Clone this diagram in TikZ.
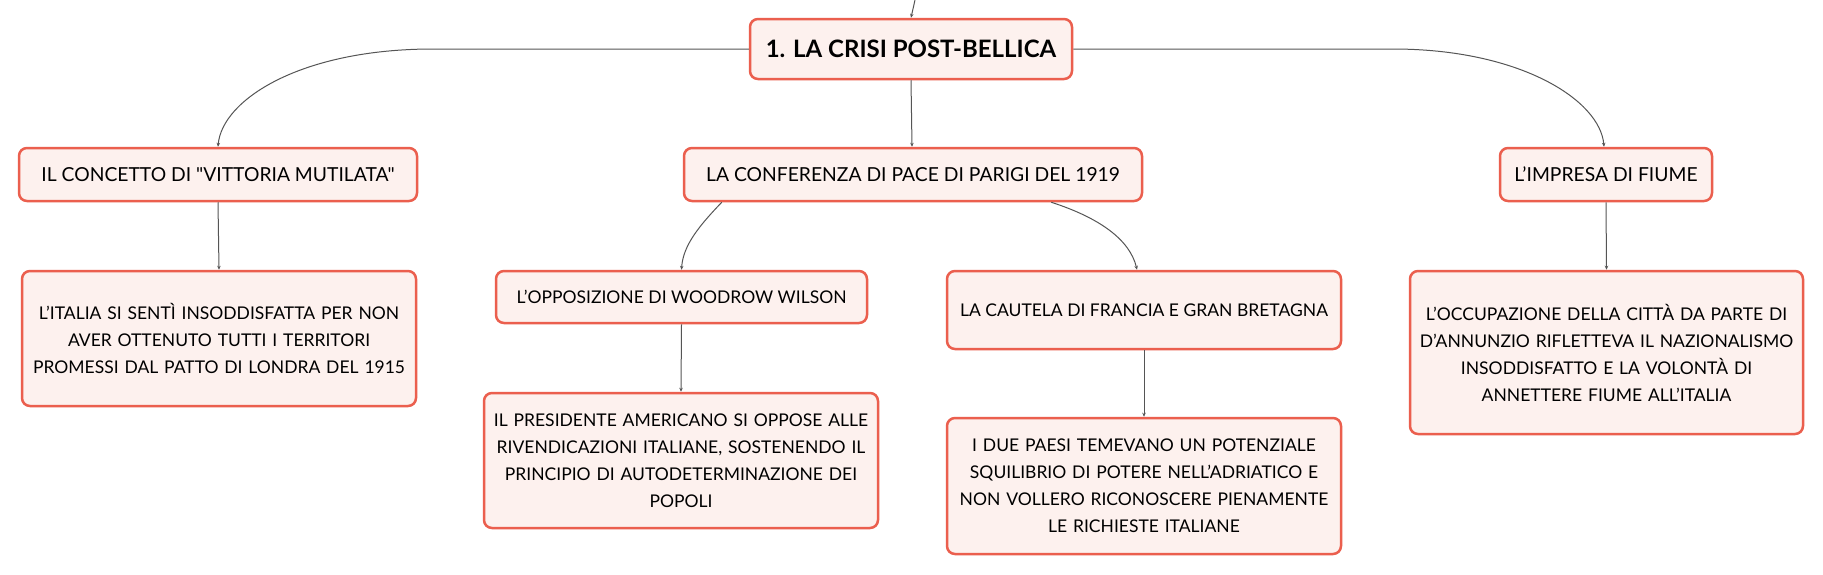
\documentclass[tikz,border=0pt]{standalone}
\usepackage{fontspec}
\setmainfont{Lato}[Ligatures=TeXOff]
\usetikzlibrary{arrows.meta}
\definecolor{bordc}{HTML}{EB5F4E}
\definecolor{fillc}{HTML}{FDF1EE}
\definecolor{linec}{HTML}{555555}
\tikzset{
  box/.style={draw=bordc, fill=fillc, line width=2.5pt, rounded corners=8pt,
    inner sep=0pt, align=center, font=\fontsize{17.5}{27}\selectfont, text=black},
  labbox/.style={box, font=\fontsize{19.3}{27}\selectfont},
  mainbox/.style={box, font=\fontsize{24}{27}\selectfont\bfseries},
  conn/.style={draw=linec, line width=1pt, -{Stealth[length=4pt,width=3.5pt]}}
}
\begin{document}
\begin{tikzpicture}[x=1pt,y=-1pt]
\useasboundingbox (0,0) rectangle (1823,574);
\fill[white] (0,0) rectangle (1823,574);

\node[mainbox, minimum width=322, minimum height=60] (main) at (911,49) {1. LA CRISI POST-BELLICA};

\node[labbox, minimum width=398, minimum height=53] (vit) at (218,174.5) {IL CONCETTO DI "VITTORIA MUTILATA"};
\node[box, minimum width=394, minimum height=135, text width=380] (vitd) at (219,338.5)
  {L’ITALIA SI SENTÌ INSODDISFATTA PER NON\\AVER OTTENUTO TUTTI I TERRITORI\\PROMESSI DAL PATTO DI LONDRA DEL 1915};

\node[labbox, minimum width=458, minimum height=53] (conf) at (913,174.5) {LA CONFERENZA DI PACE DI PARIGI DEL 1919};

\node[box, minimum width=371, minimum height=52] (wil) at (681.5,297) {L’OPPOSIZIONE DI WOODROW WILSON};
\node[box, minimum width=394, minimum height=135, text width=380] (wild) at (681,460.5)
  {IL PRESIDENTE AMERICANO SI OPPOSE ALLE\\RIVENDICAZIONI ITALIANE, SOSTENENDO IL\\PRINCIPIO DI AUTODETERMINAZIONE DEI\\POPOLI};

\node[box, minimum width=394, minimum height=78] (cau) at (1144,310) {LA CAUTELA DI FRANCIA E GRAN BRETAGNA};
\node[box, minimum width=394, minimum height=136, text width=380] (caud) at (1144,486)
  {I DUE PAESI TEMEVANO UN POTENZIALE\\SQUILIBRIO DI POTERE NELL’ADRIATICO E\\NON VOLLERO RICONOSCERE PIENAMENTE\\LE RICHIESTE ITALIANE};

\node[labbox, minimum width=212, minimum height=53] (fiu) at (1606,174.5) {L’IMPRESA DI FIUME};
\node[box, minimum width=393, minimum height=163, text width=380] (fiud) at (1606.5,352.5)
  {L’OCCUPAZIONE DELLA CITTÀ DA PARTE DI\\D’ANNUNZIO RIFLETTEVA IL NAZIONALISMO\\INSODDISFATTO E LA VOLONTÀ DI\\ANNETTERE FIUME ALL’ITALIA};

\coordinate (top) at (915,0);
\draw[conn] (top) -- (main.north);

\draw[conn] (main.west) -- (433,49) .. controls (300,49) and (222,100) .. (vit.north);
\draw[conn] (main.east) -- (1393,49) .. controls (1520,49) and (1600,100) .. ([xshift=-2]fiu.north);
\draw[conn] (main.south) -- ([xshift=-1]conf.north);

\draw[conn] ([xshift=39]conf.south west) .. controls (700,225) and (683,245) .. (wil.north);
\draw[conn] ([xshift=-92]conf.south east) .. controls (1100,218) and (1130,240) .. ([xshift=-7]cau.north);

\draw[conn] (vit.south) -- (vitd.north);
\draw[conn] (wil.south) -- (wild.north);
\draw[conn] (cau.south) -- (caud.north);
\draw[conn] (fiu.south) -- (fiud.north);
\end{tikzpicture}
\end{document}
